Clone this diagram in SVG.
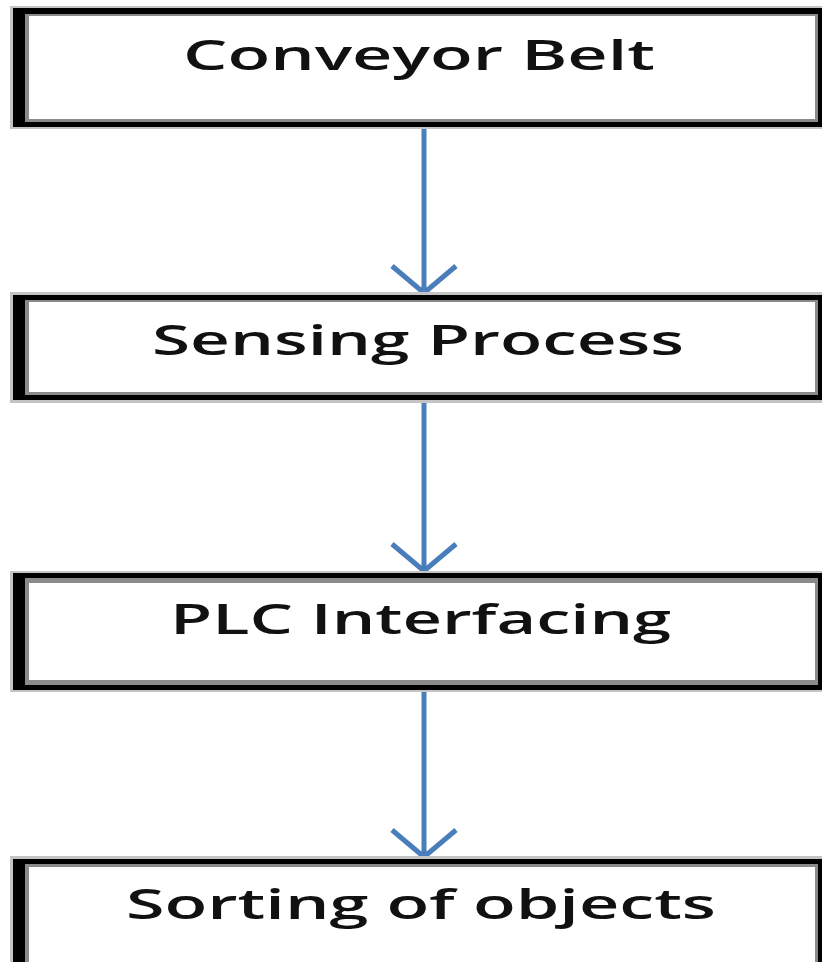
<svg xmlns="http://www.w3.org/2000/svg" width="822" height="962" viewBox="0 0 822 962">
<style>
.g1{fill:#c4c4c4}
.bk{fill:#000}
.g2{fill:#8a8a8a}
.wh{fill:#fff}
.lbl{font-family:"Open Sans","Liberation Sans",sans-serif;font-size:42px;font-weight:600;fill:#111}
.con{stroke:#4a7ebb;stroke-width:5;fill:none;stroke-linecap:butt;stroke-linejoin:miter}
</style>
<rect x="0" y="0" width="822" height="962" fill="#fff"/>
<g id="connectors">
<path class="con" d="M424 127 V293 M392 266 L424 293 L456 266"/>
<path class="con" d="M424 400 V571 M392 544 L424 571 L456 544"/>
<path class="con" d="M424 690 V857 M392 830 L424 857 L456 830"/>
</g>
<g id="conveyor-belt">
<rect class="g1" x="10" y="6" width="812" height="123"/>
<rect class="bk" x="13" y="8" width="809" height="119"/>
<rect class="g2" x="25" y="14" width="793" height="108"/>
<rect class="wh" x="29" y="16" width="786" height="103"/>
<text class="lbl" x="183" y="70" textLength="472" lengthAdjust="spacingAndGlyphs">Conveyor Belt</text>
</g>
<g id="sensing-process">
<rect class="g1" x="10" y="292" width="812" height="111"/>
<rect class="bk" x="13" y="295" width="809" height="105"/>
<rect class="g2" x="25" y="300" width="793" height="95"/>
<rect class="wh" x="29" y="302" width="786" height="90"/>
<text class="lbl" x="152" y="355" textLength="532" lengthAdjust="spacingAndGlyphs">Sensing Process</text>
</g>
<g id="plc-interfacing">
<rect class="g1" x="10" y="571" width="812" height="121"/>
<rect class="bk" x="13" y="573" width="809" height="117"/>
<rect class="g2" x="25" y="578" width="793" height="107"/>
<rect class="wh" x="29" y="583" width="786" height="97"/>
<text class="lbl" x="170" y="634" textLength="501" lengthAdjust="spacingAndGlyphs">PLC Interfacing</text>
</g>
<g id="sorting-of-objects">
<rect class="g1" x="10" y="856" width="812" height="106"/>
<rect class="bk" x="13" y="859" width="809" height="103"/>
<rect class="g2" x="25" y="864" width="793" height="98"/>
<rect class="wh" x="29" y="867" width="786" height="95"/>
<text class="lbl" x="126" y="919" textLength="590" lengthAdjust="spacingAndGlyphs">Sorting of objects</text>
</g>
</svg>
